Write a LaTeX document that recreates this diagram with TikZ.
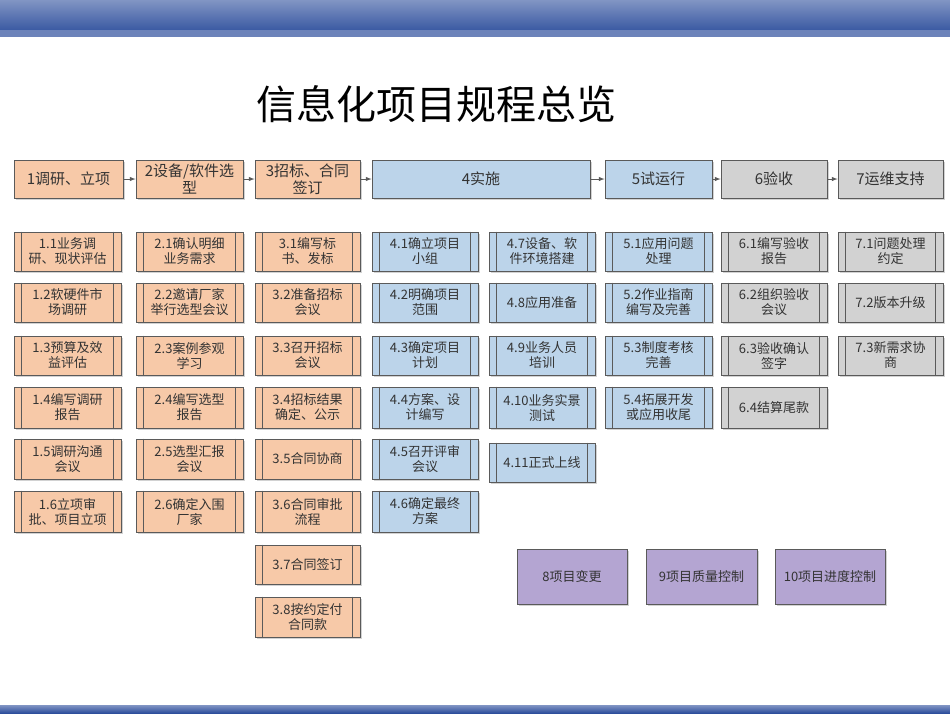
\documentclass[tikz,border=0pt]{standalone}
\usepackage{fontspec}
\setmainfont{Noto Sans CJK SC}
\usetikzlibrary{shadows}
\definecolor{org}{HTML}{F7C9A8}
\definecolor{blu}{HTML}{BCD4EA}
\definecolor{gry}{HTML}{D2D2D2}
\definecolor{pur}{HTML}{B4A5D2}
\definecolor{edge}{HTML}{5A5A5A}
\definecolor{band}{HTML}{2D4E9C}
\tikzset{
 boxs/.style={draw=edge,line width=0.8pt,align=center,inner sep=1pt,font=\fontsize{13}{15}\selectfont,text=black!80,drop shadow={shadow xshift=2pt,shadow yshift=-2pt,opacity=0.35}},
 hdr/.style={boxs,font=\fontsize{15}{17}\selectfont},
 arr/.style={-latex,draw=edge,line width=1pt},
}
% name, x1, y1, x2, y2, fill, text
\newcommand\pbx[7]{%
 \node[boxs,fill=#6,minimum width=#4-#2,minimum height=#5-#3] (#1) at ({(#2+#4)/2},{(#3+#5)/2}) {#7};
 \draw[edge,line width=0.6pt] ([xshift=8]#1.north west) -- ([xshift=8]#1.south west)
   ([xshift=-8]#1.north east) -- ([xshift=-8]#1.south east);}
\newcommand\hbx[7]{%
 \node[hdr,fill=#6,minimum width=#4-#2,minimum height=#5-#3] (#1) at ({(#2+#4)/2},{(#3+#5)/2}) {#7};}
\begin{document}
\begin{tikzpicture}[x=1pt,y=-1pt]
\useasboundingbox (0,0) rectangle (950,713);
\fill[white] (0,0) rectangle (950,713);
\shade[top color=band!60,bottom color=band] (0,0) rectangle (950,36);
\fill[band!70] (0,30) rectangle (950,37);
\shade[top color=band!60,bottom color=band] (0,705) rectangle (950,713);
\node[font=\fontsize{40}{44}\selectfont] (title) at (436,104) {信息化项目规程总览};
% headers
\hbx{h1}{14}{160}{123}{198}{org}{1调研、立项}
\hbx{h2}{136}{160}{243}{198}{org}{2设备/软件选\\型}
\hbx{h3}{255}{160}{360}{198}{org}{3招标、合同\\签订}
\hbx{h4}{372}{160}{590}{198}{blu}{4实施}
\hbx{h5}{605}{160}{712}{198}{blu}{5试运行}
\hbx{h6}{721}{160}{827}{198}{gry}{6验收}
\hbx{h7}{838}{160}{943}{198}{gry}{7运维支持}
\draw[arr] (h1) -- (h2); \draw[arr] (h2) -- (h3); \draw[arr] (h3) -- (h4);
\draw[arr] (h4) -- (h5); \draw[arr] (h5) -- (h6); \draw[arr] (h6) -- (h7);
% col1
\pbx{a1}{14}{232}{121}{271}{org}{1.1业务调\\研、现状评估}
\pbx{a2}{14}{283}{121}{322}{org}{1.2软硬件市\\场调研}
\pbx{a3}{14}{336}{121}{375}{org}{1.3预算及效\\益评估}
\pbx{a4}{14}{387}{121}{428}{org}{1.4编写调研\\报告}
\pbx{a5}{14}{439}{121}{479}{org}{1.5调研沟通\\会议}
\pbx{a6}{14}{491}{121}{532}{org}{1.6立项审\\批、项目立项}
% col2
\pbx{b1}{136}{232}{243}{271}{org}{2.1确认明细\\业务需求}
\pbx{b2}{136}{283}{243}{322}{org}{2.2邀请厂家\\举行选型会议}
\pbx{b3}{136}{336}{243}{375}{org}{2.3案例参观\\学习}
\pbx{b4}{136}{387}{243}{428}{org}{2.4编写选型\\报告}
\pbx{b5}{136}{439}{243}{479}{org}{2.5选型汇报\\会议}
\pbx{b6}{136}{491}{243}{532}{org}{2.6确定入围\\厂家}
% col3
\pbx{c1}{255}{232}{360}{271}{org}{3.1编写标\\书、发标}
\pbx{c2}{255}{283}{360}{322}{org}{3.2准备招标\\会议}
\pbx{c3}{255}{336}{360}{375}{org}{3.3召开招标\\会议}
\pbx{c4}{255}{387}{360}{428}{org}{3.4招标结果\\确定、公示}
\pbx{c5}{255}{439}{360}{479}{org}{3.5合同协商}
\pbx{c6}{255}{491}{360}{532}{org}{3.6合同审批\\流程}
\pbx{c7}{255}{545}{360}{584}{org}{3.7合同签订}
\pbx{c8}{255}{597}{360}{637}{org}{3.8按约定付\\合同款}
% col4a
\pbx{d1}{372}{232}{478}{271}{blu}{4.1确立项目\\小组}
\pbx{d2}{372}{283}{478}{322}{blu}{4.2明确项目\\范围}
\pbx{d3}{372}{336}{478}{375}{blu}{4.3确定项目\\计划}
\pbx{d4}{372}{387}{478}{428}{blu}{4.4方案、设\\计编写}
\pbx{d5}{372}{439}{478}{479}{blu}{4.5召开评审\\会议}
\pbx{d6}{372}{491}{478}{532}{blu}{4.6确定最终\\方案}
% col4b
\pbx{e1}{489}{232}{595}{271}{blu}{4.7设备、软\\件环境搭建}
\pbx{e2}{489}{283}{595}{322}{blu}{4.8应用准备}
\pbx{e3}{489}{336}{595}{375}{blu}{4.9业务人员\\培训}
\pbx{e4}{489}{387}{595}{428}{blu}{4.10业务实景\\测试}
\pbx{e5}{489}{443}{595}{482}{blu}{4.11正式上线}
% col5
\pbx{f1}{605}{232}{712}{271}{blu}{5.1应用问题\\处理}
\pbx{f2}{605}{283}{712}{322}{blu}{5.2作业指南\\编写及完善}
\pbx{f3}{605}{336}{712}{375}{blu}{5.3制度考核\\完善}
\pbx{f4}{605}{387}{712}{428}{blu}{5.4拓展开发\\或应用收尾}
% col6
\pbx{g1}{721}{232}{827}{271}{gry}{6.1编写验收\\报告}
\pbx{g2}{721}{283}{827}{322}{gry}{6.2组织验收\\会议}
\pbx{g3}{721}{336}{827}{375}{gry}{6.3验收确认\\签字}
\pbx{g4}{721}{387}{827}{428}{gry}{6.4结算尾款}
% col7
\pbx{k1}{838}{232}{943}{271}{gry}{7.1问题处理\\约定}
\pbx{k2}{838}{283}{943}{322}{gry}{7.2版本升级}
\pbx{k3}{838}{336}{943}{375}{gry}{7.3新需求协\\商}
% purple
\hbx{p1}{517}{549}{627}{604}{pur}{\fontsize{13}{15}\selectfont 8项目变更}
\hbx{p2}{646}{549}{757}{604}{pur}{\fontsize{13}{15}\selectfont 9项目质量控制}
\hbx{p3}{775}{549}{885}{604}{pur}{\fontsize{13}{15}\selectfont 10项目进度控制}
\end{tikzpicture}
\end{document}
